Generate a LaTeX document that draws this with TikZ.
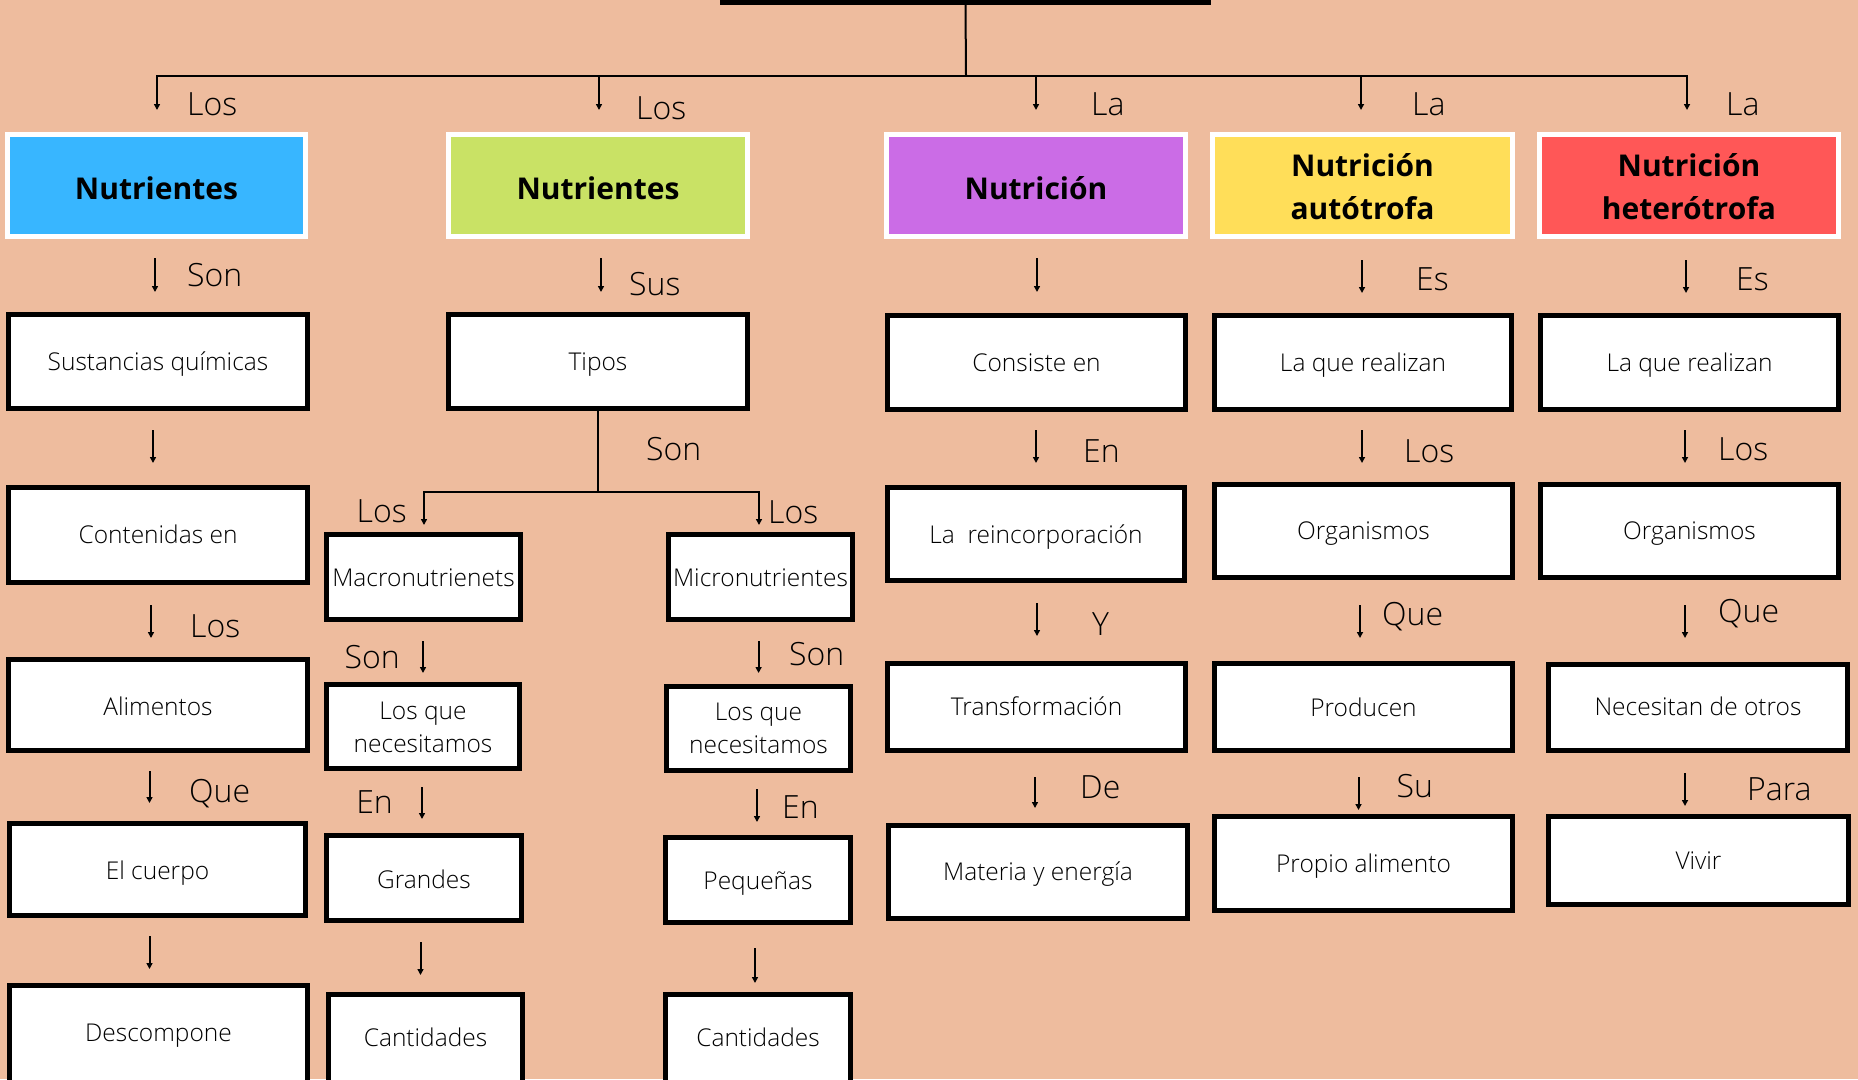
\documentclass[tikz,border=0pt]{standalone}
\usepackage{fontspec}
\setmainfont{Open Sans}
\newfontfamily\lightfont{Open Sans Light}
\usetikzlibrary{arrows.meta}
\definecolor{bg}{RGB}{238,188,158}
\definecolor{cblue}{RGB}{56,182,255}
\definecolor{cgreen}{RGB}{201,226,101}
\definecolor{cpurple}{RGB}{203,108,230}
\definecolor{cyellow}{RGB}{255,222,89}
\definecolor{cred}{RGB}{255,87,87}
% \bx[style]{name}{x1}{y1}{x2}{y2}{baseline drop}{text}
\newcommand\bx[8][box]{\node[#1, minimum width={#5-#3-5}, minimum height={#6-#4-5}] (#2) at ({(#3+#5)/2},{(#4+#6)/2}) {\raisebox{-#7pt}[0pt][0pt]{#8}};}
\newcommand\ar[4]{\coordinate (#1a) at (#2,#3); \coordinate (#1b) at (#2,#4); \draw[arrow] (#1a) -- (#1b);}
\newcommand\two[2]{\begin{tabular}[t]{@{}c@{}}#1\\#2\end{tabular}}
\begin{document}
\begin{tikzpicture}[x=1pt,y=-1pt,
  box/.style={draw=black, line width=5pt, fill=white, inner sep=0pt, align=center,
    font=\lightfont\fontsize{24.5}{33}\selectfont},
  ttl/.style={draw=white, line width=5pt, inner sep=0pt, align=center, font=\fontsize{30}{43}\selectfont\bfseries},
  lab/.style={anchor=base west, inner sep=0pt, font=\lightfont\fontsize{32}{38}\selectfont},
  arrow/.style={line width=2pt, -{Triangle[length=6pt,width=6pt]}},
  link/.style={line width=2pt}]
\useasboundingbox (0,0) rectangle (1858,1079);
\fill[bg] (0,0) rectangle (1858,1079);
\clip (0,0) rectangle (1858,1079);

% title bar (bottom edge of a box above the page)
\node[fill=black, inner sep=0pt, minimum width=491, minimum height=12] (title) at (965.5,-1) {};
\coordinate (hub) at (966,76);
\draw[link] (title.south) -- (hub);

% top arrows
\coordinate (a1b) at (157,110); \coordinate (a2b) at (599,110); \coordinate (a3b) at (1036,110);
\coordinate (a4b) at (1361,110); \coordinate (a5b) at (1687,110);
\foreach \n in {a1b,a2b,a3b,a4b,a5b} {\draw[arrow] (hub) -| (\n);}
\node[lab] (l1) at (187,115) {Los};
\node[lab] (l2) at (636,119) {Los};
\node[lab] (l3) at (1091,115) {La};
\node[lab] (l4) at (1412,115) {La};
\node[lab] (l5) at (1726,115) {La};

% title boxes
\bx[ttl,fill=cblue]{t1}{5}{132}{308}{239}{13.5}{Nutrientes}
\bx[ttl,fill=cgreen]{t2}{446}{132}{750}{239}{13.5}{Nutrientes}
\bx[ttl,fill=cpurple]{t3}{884}{132}{1188}{239}{13.5}{Nutrición}
\bx[ttl,fill=cyellow]{t4}{1210}{132}{1515}{239}{-8.8}{\two{Nutrición}{autótrofa}}
\bx[ttl,fill=cred]{t5}{1537}{132}{1841}{239}{-8.8}{\two{Nutrición}{heterótrofa}}

% row 2 arrows
\ar{r21}{155}{258}{292} \node[lab] (l21) at (187,286) {Son};
\ar{r22}{601}{258}{292} \node[lab] (l22) at (629,295) {Sus};
\ar{r23}{1037}{258}{292}
\ar{r24}{1362}{260}{293} \node[lab] (l24) at (1416,290) {Es};
\ar{r25}{1686}{260}{293} \node[lab] (l25) at (1736,290) {Es};

% column 1
\bx{b11}{6}{312}{310}{411}{9.2}{Sustancias químicas}
\ar{r31}{153}{430}{463}
\bx{b12}{6}{485}{310}{585}{8.3}{Contenidas en}
\ar{r41}{151}{605}{638} \node[lab] (l41) at (190,637) {Los};
\bx{b13}{6}{657}{310}{753}{10}{Alimentos}
\ar{r51}{149.5}{771}{803} \node[lab] (l51) at (189,802) {Que};
\bx{b14}{7}{821}{308}{918}{9.8}{El cuerpo}
\ar{r61}{149.5}{936}{969}
\bx{b15}{7}{983}{310}{1095}{2}{Descompone}

% column 2
\bx{b21}{446}{312}{750}{411}{9.2}{Tipos}
\coordinate (bj) at (598,492);
\coordinate (mab) at (424,525); \coordinate (mib) at (759,525);
\draw[link] (b21.south) -- (bj);
\draw[arrow] (bj) -| (mab);
\draw[arrow] (bj) -| (mib);
\node[lab] (l2s) at (646,460) {Son};
\node[lab, anchor=base east] (l2l) at (407,522) {Los};
\node[lab] (l2r) at (768,523) {Los};
\bx{ma1}{324}{532}{523}{622}{9.7}{Macronutrienets}
\bx{mi1}{666}{532}{855}{622}{9.7}{Micronutrientes}
\ar{m1}{423}{641}{673} \node[lab, anchor=base east] (lm1) at (400,668) {Son};
\ar{n1}{758.6}{641}{673} \node[lab] (ln1) at (789,665) {Son};
\bx{ma2}{324}{682}{522}{771}{-7.5}{\two{Los que}{necesitamos}}
\bx{mi2}{664}{684}{853}{773}{-7.8}{\two{Los que}{necesitamos}}
\ar{m2}{422}{787}{819} \node[lab, anchor=base east] (lm2) at (393,813) {En};
\ar{n2}{757}{789}{822} \node[lab] (ln2) at (782,818) {En};
\bx{ma3}{324}{833}{524}{923}{10.3}{Grandes}
\bx{mi3}{663}{835}{853}{925}{9.3}{Pequeñas}
\ar{m3}{420.5}{942}{975}
\ar{n3}{755}{948}{983}
\bx{ma4}{326}{992}{525}{1095}{3.2}{Cantidades}
\bx{mi4}{663}{992}{853}{1095}{3.2}{Cantidades}

% column 3
\bx{c1}{885}{313}{1188}{412}{9.2}{Consiste en}
\ar{r33}{1036}{430}{463} \node[lab] (l33) at (1083,462) {En};
\bx{c2}{885}{485}{1187}{583}{9.3}{La~ reincorporación}
\ar{r43}{1037}{603}{636} \node[lab] (l43) at (1092,635) {Y};
\bx{c3}{885}{661}{1188}{753}{8}{Transformación}
\ar{r53}{1035}{777}{808} \node[lab] (l53) at (1080,798) {De};
\bx{c4}{886}{823}{1190}{921}{8.7}{Materia y energía}

% column 4
\bx{d1}{1212}{313}{1514}{412}{9.2}{La que realizan}
\ar{r34}{1362}{430}{463} \node[lab] (l34) at (1404,462) {Los};
\bx{d2}{1212}{482}{1515}{580}{8.3}{Organismos}
\ar{r44}{1360}{605}{638} \node[lab] (l44) at (1382,625) {Que};
\bx{d3}{1212}{661}{1515}{753}{9.7}{Producen}
\ar{r54}{1358.5}{777}{810} \node[lab] (l54) at (1396.5,797) {Su};
\bx{d4}{1212}{814}{1515}{913}{9.2}{Propio alimento}

% column 5
\bx{e1}{1538}{313}{1841}{412}{9.2}{La que realizan}
\ar{r35}{1685}{430}{463} \node[lab] (l35) at (1718,460) {Los};
\bx{e2}{1538}{482}{1841}{580}{8.3}{Organismos}
\ar{r45}{1685}{605}{638} \node[lab] (l45) at (1718,622) {Que};
\bx{e3}{1546}{662}{1850}{753}{7.5}{Necesitan de otros}
\ar{r55}{1685}{773}{806} \node[lab] (l55) at (1747,800) {Para};
\bx{e4}{1546}{814}{1851}{907}{8.5}{Vivir}
\end{tikzpicture}
\end{document}
